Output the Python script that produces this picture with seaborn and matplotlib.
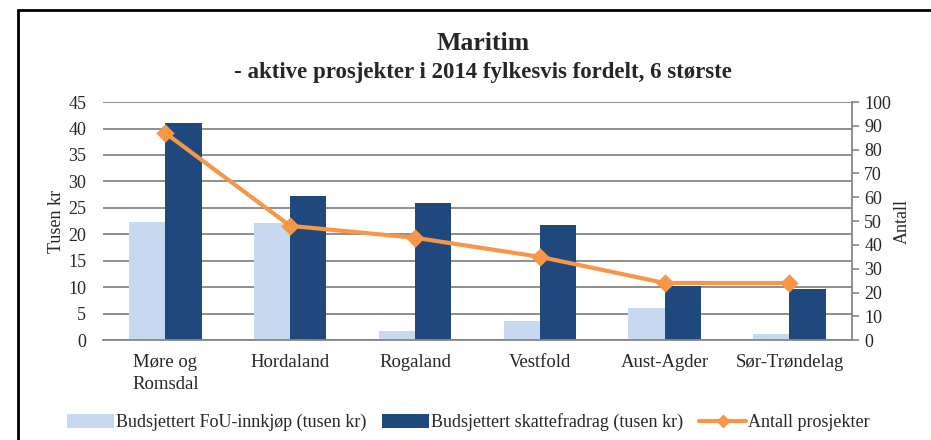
import matplotlib
matplotlib.use('Agg')
import matplotlib.pyplot as plt
from matplotlib.lines import Line2D
import seaborn as sns
import pandas as pd

# Data
fylker = ['Møre og\nRomsdal', 'Hordaland', 'Rogaland', 'Vestfold', 'Aust-Agder', 'Sør-Trøndelag']
fou_innkjop = [22.3, 22.1, 1.7, 3.6, 6.0, 1.1]
skattefradrag = [41.0, 27.3, 26.0, 21.7, 10.2, 9.6]
antall_prosjekter = [87, 48, 43, 35, 24, 24]

serie_navn = ['Budsjettert FoU-innkjøp (tusen kr)', 'Budsjettert skattefradrag (tusen kr)']
linje_navn = 'Antall prosjekter'

df = pd.DataFrame({
    'fylke': fylker * 2,
    'verdi': fou_innkjop + skattefradrag,
    'serie': [serie_navn[0]] * len(fylker) + [serie_navn[1]] * len(fylker),
})

sns.set_style('white')
plt.rcParams['font.family'] = ['Liberation Serif', 'DejaVu Serif']

grid_col = '#868686'
light = '#C6D9F1'
dark = '#1F497D'
orange = '#F79646'
fs = 13

fig = plt.figure(figsize=(9.31, 4.40), dpi=100)
ax = fig.add_axes([0.1106, 0.227, 0.8044, 0.541])

sns.barplot(data=df, x='fylke', y='verdi', hue='serie', palette=[light, dark],
            width=0.58, linewidth=0, saturation=1, ax=ax)
ax.get_legend().remove()
ax.set_ylim(0, 45)
ax.set_yticks(range(0, 46, 5))
ax.set_axisbelow(True)
ax.yaxis.grid(True, color=grid_col, linewidth=1.3)
ax.set_xlabel('')
ax.set_ylabel('Tusen kr', fontsize=fs, labelpad=2)
ax.tick_params(axis='y', length=0, pad=12, labelsize=fs)
ax.tick_params(axis='x', length=0, pad=10, labelsize=13.5)
for lbl in ax.get_xticklabels():
    lbl.set_linespacing(1.35)
for s in ['left', 'top', 'right']:
    ax.spines[s].set_visible(False)
ax.spines['bottom'].set_color(grid_col)
ax.spines['bottom'].set_linewidth(1.3)

ax2 = ax.twinx()
sns.pointplot(x=fylker, y=antall_prosjekter, ax=ax2, color=orange, markers='D',
              linestyles='-', errorbar=None, markersize=7, linewidth=3)
ax2.set_ylim(0, 100)
ax2.set_yticks(range(0, 101, 10))
ax2.set_ylabel('Antall', fontsize=fs, rotation=90, labelpad=2)
ax2.tick_params(axis='y', length=5, width=1.2, color=grid_col, pad=4, labelsize=fs)
for s in ['left', 'top', 'bottom']:
    ax2.spines[s].set_visible(False)
ax2.spines['right'].set_color(grid_col)
ax2.spines['right'].set_linewidth(1.3)
ax2.set_xlim(ax.get_xlim())

# titles
fig.text(0.519, 0.902, 'Maritim', ha='center', va='center', fontsize=18.5, fontweight='bold')
fig.text(0.519, 0.836, '- aktive prosjekter i 2014 fylkesvis fordelt, 6 største',
         ha='center', va='center', fontsize=16.5, fontweight='bold')

# legend
handles, labels = ax.get_legend_handles_labels()
handles.append(Line2D([], [], color=orange, linewidth=3, marker='D', markersize=6))
labels.append(linje_navn)
fig.legend(handles, labels, loc='center', bbox_to_anchor=(0.503, 0.04), ncol=3,
           frameon=False, fontsize=fs, handlelength=2.6, handletextpad=0.1,
           columnspacing=0.9, handleheight=0.8)

# outer frame (left and top edge)
fig.add_artist(Line2D([0.0195, 0.0195], [0, 0.977], color='black', linewidth=2, transform=fig.transFigure))
fig.add_artist(Line2D([0.0195, 1.0], [0.977, 0.977], color='black', linewidth=2, transform=fig.transFigure))

fig.savefig('out.png', dpi=100)
